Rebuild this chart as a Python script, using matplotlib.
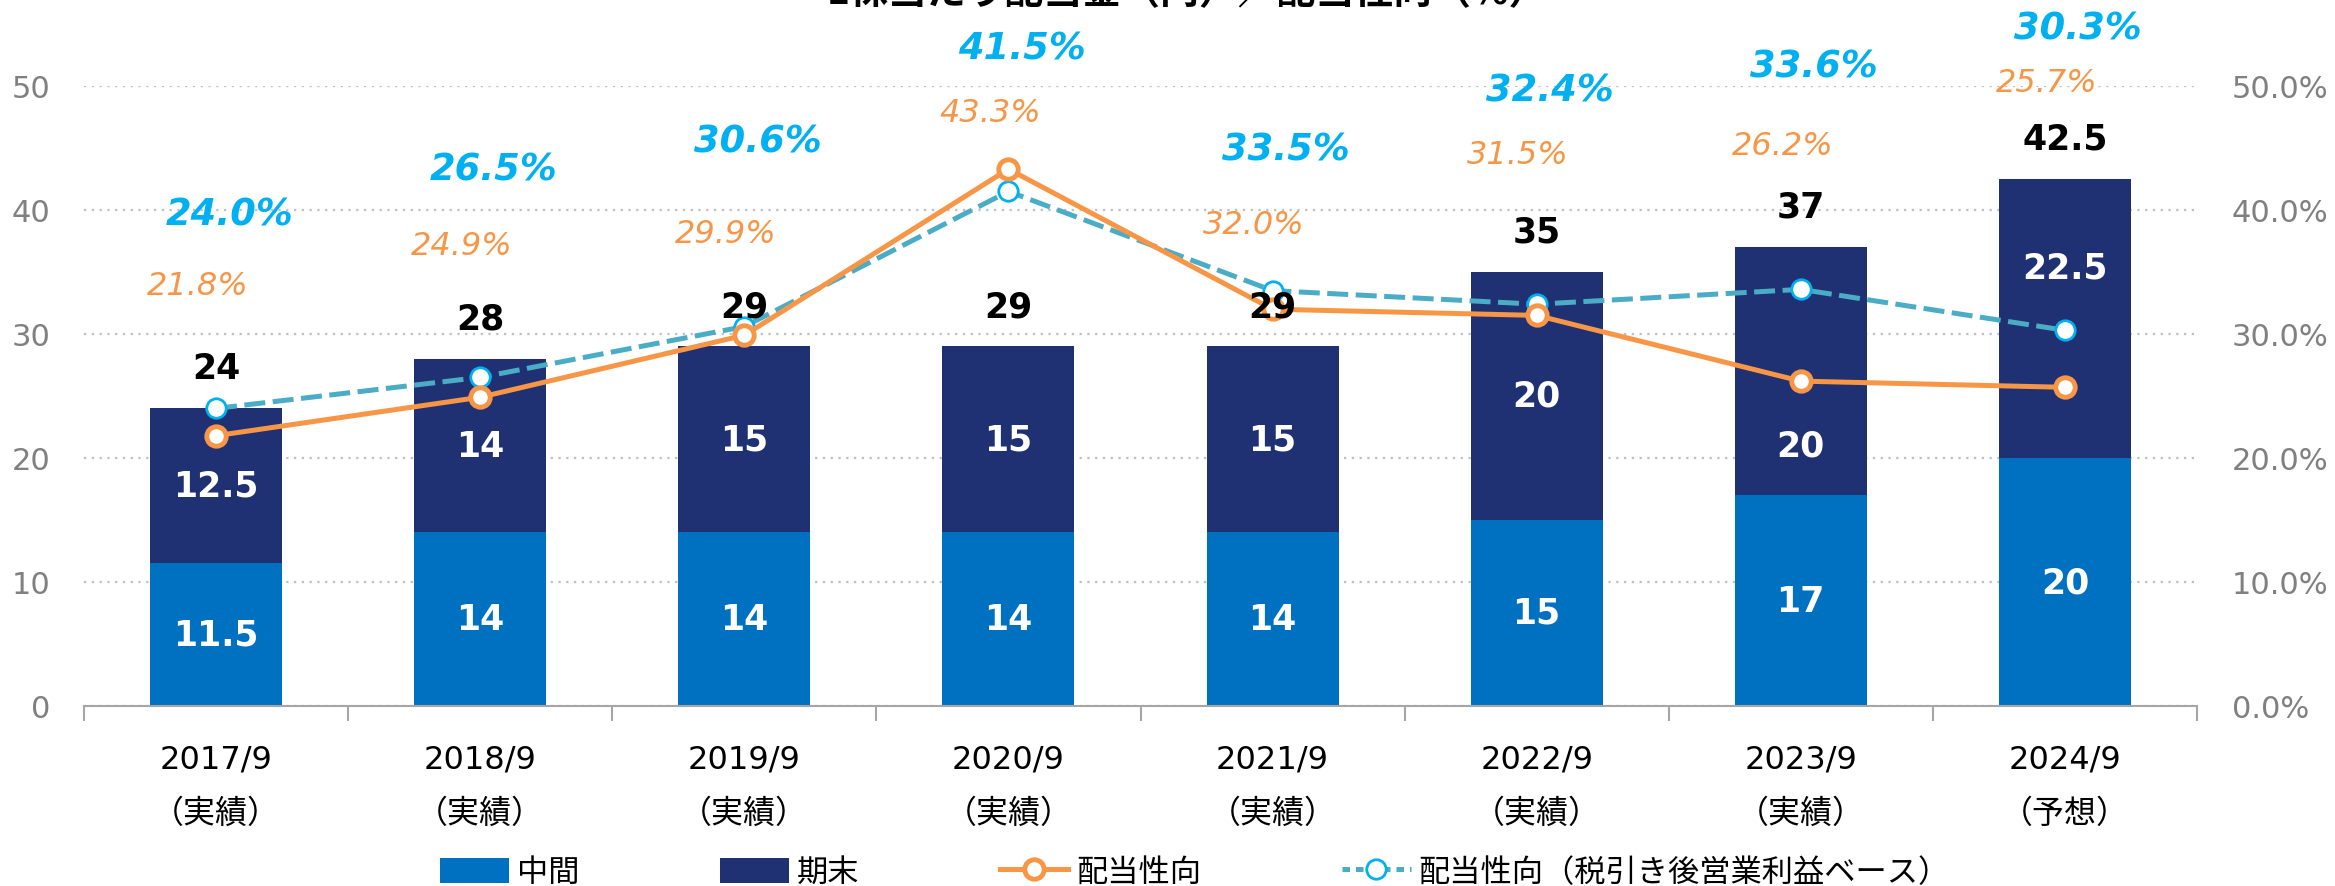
import numpy as np
import matplotlib
matplotlib.use("Agg")
import matplotlib.pyplot as plt
from matplotlib.lines import Line2D
from matplotlib.patches import Patch

plt.rcParams["font.family"] = ["DejaVu Sans", "Noto Sans CJK JP"]

years = ["2017/9", "2018/9", "2019/9", "2020/9", "2021/9", "2022/9", "2023/9", "2024/9"]
status = ["（実績）"] * 7 + ["（予想）"]
interim = [11.5, 14, 14, 14, 14, 15, 17, 20]
year_end = [12.5, 14, 15, 15, 15, 20, 20, 22.5]
total_labels = ["24", "28", "29", "29", "29", "35", "37", "42.5"]
payout = [21.8, 24.9, 29.9, 43.3, 32.0, 31.5, 26.2, 25.7]
payout_op = [24.0, 26.5, 30.6, 41.5, 33.5, 32.4, 33.6, 30.3]

# label placement (axis units), hand-tuned like the original
payout_label_y = [33.9, 37.1, 38.1, 47.9, 38.8, 44.5, 45.2, 50.3]
payout_op_label_y = [39.7, 43.3, 45.6, 53.1, 44.9, 49.7, 51.6, 54.7]
year_end_label_shift = [0, 0, 0, 0, 0, 0, -6, 4.1]

C_INTERIM = "#0070C0"
C_END = "#1F3172"
C_ORANGE = "#F79646"
C_CYAN = "#00B0F0"
C_DASH = "#4BACC6"
C_GREY = "#808080"

fig = plt.figure(figsize=(23.35, 8.87), dpi=100)
ax = fig.add_axes([84 / 2335, 1 - 707 / 887, (2197 - 84) / 2335, (707 - 87) / 887])
ax2 = ax.twinx()

x = np.arange(len(years))
total = np.array(interim) + np.array(year_end)

ax.bar(x, interim, width=0.5, color=C_INTERIM, zorder=2)
ax.bar(x, year_end, width=0.5, bottom=interim, color=C_END, zorder=2)

for i in range(len(x)):
    ax.text(x[i], interim[i] / 2, f"{interim[i]:g}", color="white", fontsize=25,
            fontweight="bold", ha="center", va="center", zorder=3)
    ax.text(x[i], interim[i] + year_end[i] / 2 + year_end_label_shift[i], f"{year_end[i]:g}",
            color="white", fontsize=25, fontweight="bold", ha="center", va="center", zorder=3)

ax.set_xlim(-0.5, len(x) - 0.5)
ax.set_ylim(0, 50)
ax.set_yticks([0, 10, 20, 30, 40, 50])
ax.yaxis.grid(True, color="#BFBFBF", linestyle=(0, (1, 2.5)), linewidth=1.6, zorder=0)
ax.set_axisbelow(True)
ax.tick_params(axis="y", length=0, labelsize=22, labelcolor=C_GREY, pad=24)

# category labels: two lines under each bar
ax.set_xticks(x)
ax.set_xticklabels([])
for i in range(len(x)):
    ax.annotate(years[i], (x[i], 0), xycoords=("data", "axes fraction"), xytext=(0, -38),
                textcoords="offset points", ha="center", va="center", fontsize=23)
    ax.annotate(status[i], (x[i], 0), xycoords=("data", "axes fraction"), xytext=(0, -77),
                textcoords="offset points", ha="center", va="center", fontsize=23)
ax.set_xticks(np.arange(-0.5, len(x)), minor=True)
ax.tick_params(axis="x", which="major", length=0)
ax.tick_params(axis="x", which="minor", length=11, width=1.5, color="#A6A6A6")

for sp in ["left", "right", "top"]:
    ax.spines[sp].set_visible(False)
    ax2.spines[sp].set_visible(False)
ax.spines["bottom"].set_color("#A6A6A6")
ax.spines["bottom"].set_linewidth(1.5)
ax2.spines["bottom"].set_visible(False)

ax2.plot(x, payout_op, color=C_DASH, linewidth=3.6, dashes=(4.2, 1.5), marker="o",
         markersize=14, markerfacecolor="white", markeredgecolor=C_CYAN, markeredgewidth=2,
         zorder=4)
ax2.plot(x, payout, color=C_ORANGE, linewidth=3.6, marker="o", markersize=14,
         markerfacecolor="white", markeredgecolor=C_ORANGE, markeredgewidth=3.5, zorder=5)
ax2.set_ylim(0, 50)
ax2.set_yticks([0, 10, 20, 30, 40, 50])
ax2.set_yticklabels([f"{v:.1f}%" for v in [0, 10, 20, 30, 40, 50]])
ax2.tick_params(axis="y", length=0, labelsize=22, labelcolor=C_GREY, pad=25)

for i in range(len(x)):
    ax2.annotate(total_labels[i], (x[i], total[i]), xytext=(0, 29), textcoords="offset points",
                 fontsize=25, fontweight="bold", ha="center", va="center", color="black", zorder=6)
    ax2.text(x[i] - 0.07, payout_label_y[i], f"{payout[i]:.1f}%", color=C_ORANGE, fontsize=23,
             style="italic", ha="center", va="center")
    ax2.text(x[i] + 0.05, payout_op_label_y[i], f"{payout_op[i]:.1f}%", color=C_CYAN, fontsize=26.5,
             style="italic", fontweight="bold", ha="center", va="center")

handles = [
    Patch(facecolor=C_INTERIM, label="中間"),
    Patch(facecolor=C_END, label="期末"),
    Line2D([], [], color=C_ORANGE, linewidth=3.6, marker="o", markersize=14,
           markerfacecolor="white", markeredgecolor=C_ORANGE, markeredgewidth=3.5, label="配当性向"),
    Line2D([], [], color=C_DASH, linewidth=3.6, dashes=(1.5, 1.2), marker="o", markersize=14,
           markerfacecolor="white", markeredgecolor=C_CYAN, markeredgewidth=2,
           label="配当性向（税引き後営業利益ベース）"),
]
fig.legend(handles=handles, loc="center", bbox_to_anchor=(1195 / 2335, 1 - 873 / 887), ncol=4,
           frameon=False, prop={"family": ["Noto Sans CJK JP"], "size": 22.5},
           handlelength=2.2, handleheight=0.85, handletextpad=0.25, columnspacing=4.5)

fig.text(1187 / 2335, 1 - 12 / 887, "1株当たり配当金（円）／配当性向（%）", ha="center", va="bottom",
         fontsize=28, fontweight="bold", family=["Noto Sans CJK JP"])

fig.savefig("out.png", dpi=100)
